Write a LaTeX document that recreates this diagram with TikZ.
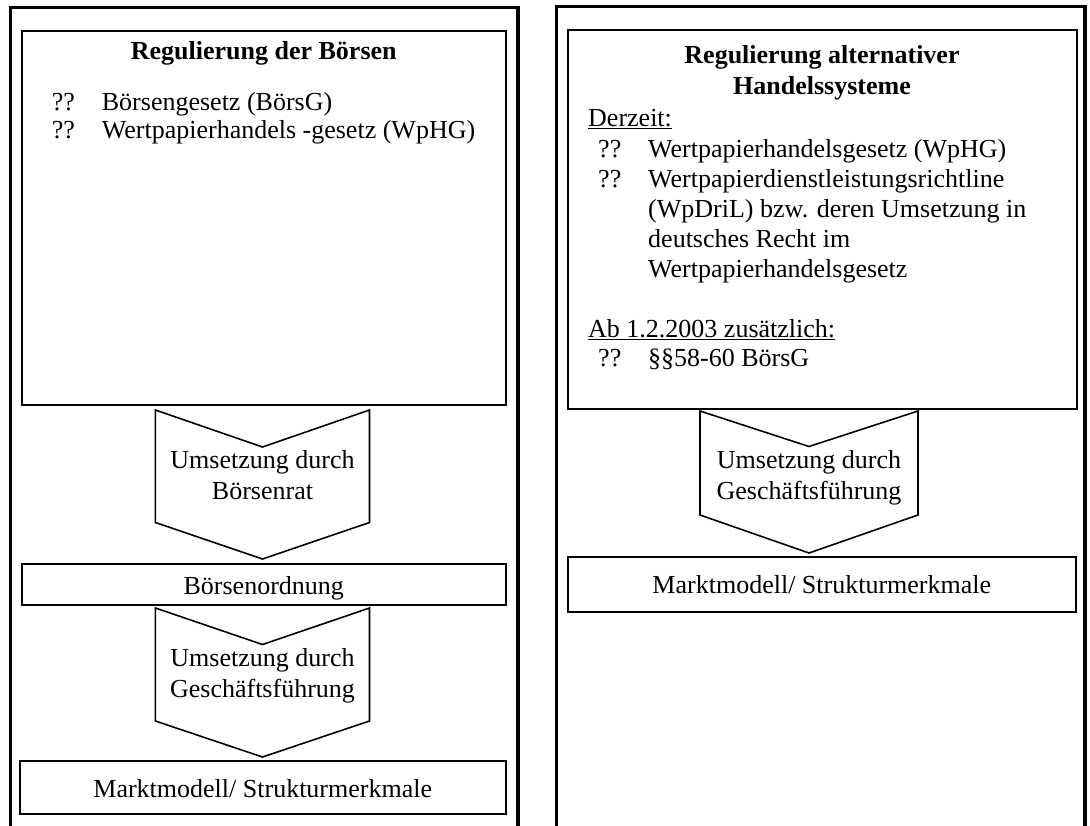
\documentclass[tikz,border=0pt]{standalone}
\usepackage{fontspec}
\setmainfont{Liberation Serif}
\begin{document}
\begin{tikzpicture}[x=1pt,y=-1pt,
  panel/.style={line width=3.5pt},
  box/.style={draw, line width=2pt, inner sep=0pt},
  chevron/.style={draw, line width=1.6pt, line join=miter},
  txt/.style={inner sep=0pt, font=\fontsize{26}{30}\selectfont},
  ttl/.style={inner sep=0pt, font=\fontsize{26}{30}\selectfont\bfseries},
]
\useasboundingbox (0,0) rectangle (1090,825);

% outer panels, open at the bottom
\draw[panel] (10.5,830) -- (10.5,7.5) -- (518,7.5) -- (518,830);
\draw[panel] (556.5,830) -- (556.5,6.5) -- (1085,6.5) -- (1085,830);

% ---------------- left column: exchanges ----------------
\node[box, minimum width=484.5pt, minimum height=374.4pt] (lreg) at (263.75,217.8) {};
\node[ttl, anchor=base] (ltitle) at (263.75,59) {Regulierung der Börsen};
\node[txt, anchor=base west] (lb1) at (51.7,110) {??};
\node[txt, anchor=base west] (lt1) at (101.7,110) {Börsengesetz (BörsG)};
\node[txt, anchor=base west] (lb2) at (51.7,138) {??};
\node[txt, anchor=base west] (lt2) at (101.7,138) {Wertpapierhandels -gesetz (WpHG)};

\draw[chevron] (155.4,410) -- (262.5,447) -- (369.5,410) -- (369.5,522.5)
  -- (262.5,559) -- (155.4,522.5) -- cycle;
\node[txt, anchor=base] (lc1a) at (262.5,468) {Umsetzung durch};
\node[txt, anchor=base] (lc1b) at (262.5,499) {Börsenrat};

\node[box, minimum width=484.5pt, minimum height=41pt] (lord) at (263.75,584.5) {};
\node[txt, anchor=base] (lordt) at (263.75,594) {Börsenordnung};

\draw[chevron] (155.4,608) -- (262.5,644.5) -- (369.5,608) -- (369.5,721)
  -- (262.5,757) -- (155.4,721) -- cycle;
\node[txt, anchor=base] (lc2a) at (262.5,666) {Umsetzung durch};
\node[txt, anchor=base] (lc2b) at (262.5,697) {Geschäftsführung};

\node[box, minimum width=486.5pt, minimum height=53pt] (lmm) at (262.75,787.5) {};
\node[txt, anchor=base] (lmmt) at (262.75,797) {Marktmodell/ Strukturmerkmale};

% ---------------- right column: alternative trading systems ----------------
\node[box, minimum width=509pt, minimum height=379pt] (rreg) at (822,219) {};
\node[ttl, anchor=base] (rtitle1) at (822,63) {Regulierung alternativer};
\node[ttl, anchor=base] (rtitle2) at (822,94) {Handelssysteme};
\node[txt, anchor=base west] (rnow) at (588,126) {\underline{Derzeit:}};
\node[txt, anchor=base west] (rb1) at (598,157) {??};
\node[txt, anchor=base west] (rt1) at (648,157) {Wertpapierhandelsgesetz (WpHG)};
\node[txt, anchor=base west] (rb2) at (598,187) {??};
\node[txt, anchor=base west] (rt2a) at (648,187) {Wertpapierdienstleistungsrichtline};
\node[txt, anchor=base west] (rt2b) at (648,217) {(WpDriL) bzw. deren Umsetzung in};
\node[txt, anchor=base west] (rt2c) at (648,247) {deutsches Recht im};
\node[txt, anchor=base west] (rt2d) at (648,277) {Wertpapierhandelsgesetz};
\node[txt, anchor=base west] (rfrom) at (588,337) {\underline{Ab 1.2.2003 zusätzlich:}};
\node[txt, anchor=base west] (rb3) at (598,366) {??};
\node[txt, anchor=base west] (rt3) at (648,366) {§§58-60 BörsG};

\draw[chevron] (700,411) -- (809,446.5) -- (918,411) -- (918,515)
  -- (809,553) -- (700,515) -- cycle;
\node[txt, anchor=base] (rca) at (809,468) {Umsetzung durch};
\node[txt, anchor=base] (rcb) at (809,499) {Geschäftsführung};

\node[box, minimum width=508.4pt, minimum height=54.6pt] (rmm) at (821.8,584.3) {};
\node[txt, anchor=base] (rmmt) at (821.8,593) {Marktmodell/ Strukturmerkmale};
\end{tikzpicture}
\end{document}
